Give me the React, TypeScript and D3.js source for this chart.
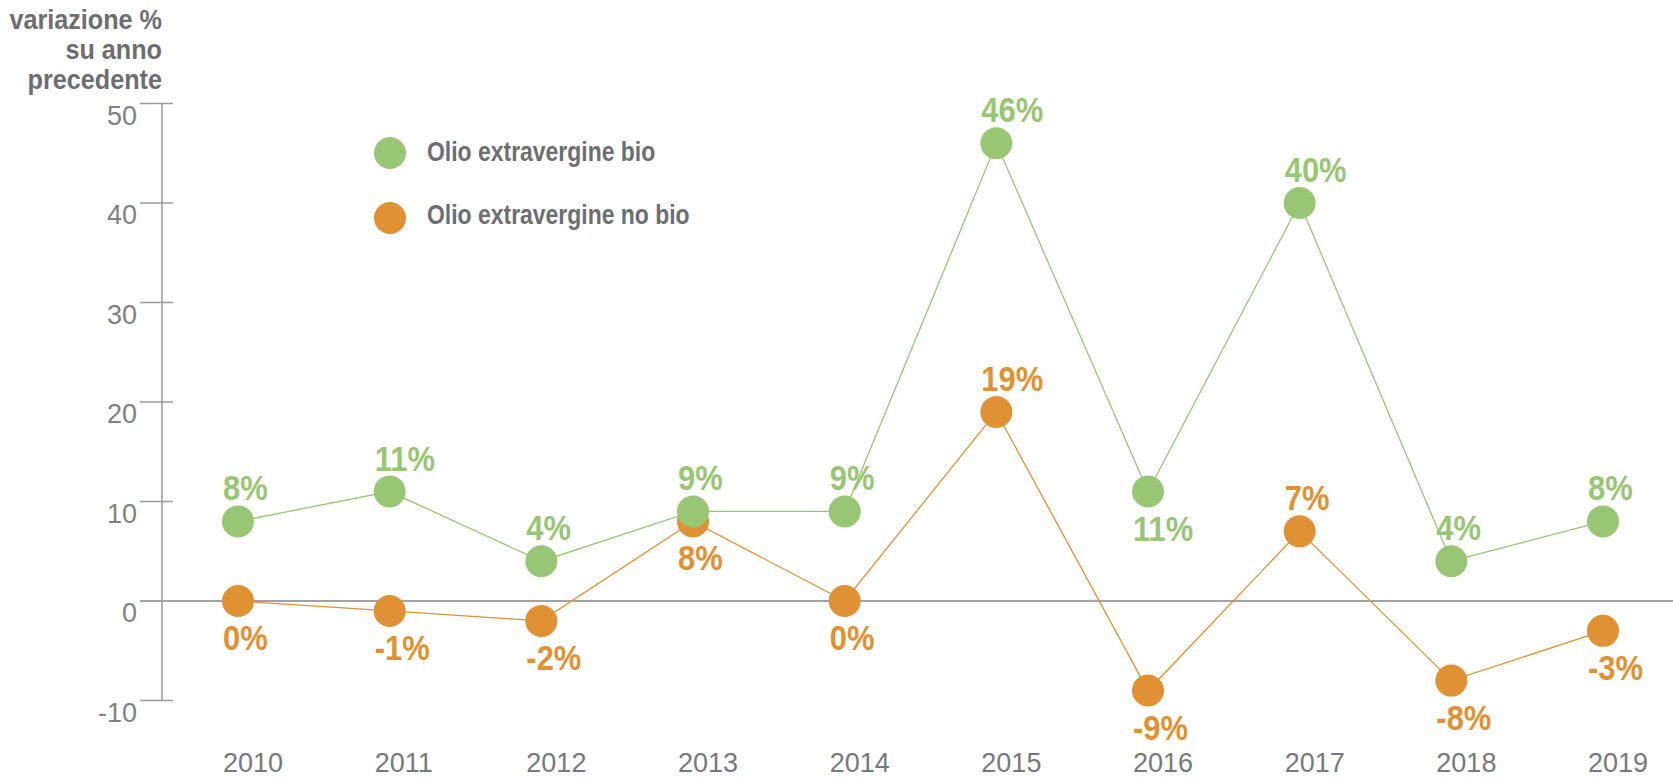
import * as d3 from 'd3';
import type { ReactNode } from 'react';

const years = ['2010', '2011', '2012', '2013', '2014', '2015', '2016', '2017', '2018', '2019'];
const bioValues = [8, 11, 4, 9, 9, 46, 11, 40, 4, 8];
const noBioValues = [0, -1, -2, 8, 0, 19, -9, 7, -8, -3];
const yTicks = [-10, 0, 10, 20, 30, 40, 50];
const titleLines = ['variazione %', 'su anno', 'precedente'];
const legendLabels = ['Olio extravergine bio', 'Olio extravergine no bio'];
// which labels go on the "other" side of the dot
const bioLabelBelow = ['2016'];
const noBioLabelAbove = ['2015', '2017'];

const GREEN = '#99c675';
const ORANGE = '#e09133';
const TEXT = '#6d6e71';
const AXIS = '#9a9a9a';
const FONT = "'Liberation Sans', Arial, sans-serif";

const width = 1673;
const height = 778;

// no condensed font installed, so squeeze bold Liberation Sans
function Cond({
  x,
  y,
  size,
  fill,
  squeeze = 0.85,
  anchor = 'start',
  children,
}: {
  x: number;
  y: number;
  size: number;
  fill: string;
  squeeze?: number;
  anchor?: 'start' | 'end' | 'middle';
  children: ReactNode;
}) {
  return (
    <text
      transform={`translate(${x},${y}) scale(${squeeze},1)`}
      fontFamily={FONT}
      fontWeight="bold"
      fontSize={size}
      fill={fill}
      textAnchor={anchor}
    >
      {children}
    </text>
  );
}

function App() {
  const x = d3.scalePoint<string>().domain(years).range([238, 1603]);
  const y = d3.scaleLinear().domain([-10, 50]).range([700.5, 103.5]);
  const axisX = 162;

  const line = d3
    .line<number>()
    .x((_, i) => x(years[i]) ?? 0)
    .y((d) => y(d));

  const series = [
    { name: legendLabels[1], values: noBioValues, color: ORANGE, flip: noBioLabelAbove, below: true },
    { name: legendLabels[0], values: bioValues, color: GREEN, flip: bioLabelBelow, below: false },
  ];

  return (
    <svg
      width={width}
      height={height}
      style={{ position: 'absolute', left: 0, top: 0, background: '#fff' }}
    >
      {/* title */}
      {titleLines.map((t, i) => (
        <Cond key={t} x={axisX} y={29 + i * 30} size={28} fill={TEXT} anchor="end" squeeze={0.9}>
          {t}
        </Cond>
      ))}

      {/* y axis */}
      <line x1={axisX} x2={axisX} y1={y(50)} y2={y(-10)} stroke={AXIS} strokeWidth={1.5} />
      {yTicks.map((t) => (
        <g key={t}>
          <line x1={140} x2={173} y1={y(t)} y2={y(t)} stroke={AXIS} strokeWidth={1.5} />
          <text
            x={137}
            y={y(t) + 21}
            textAnchor="end"
            fontFamily={FONT}
            fontSize={27}
            fill="#808184"
          >
            {t}
          </text>
        </g>
      ))}
      <line x1={140} x2={width} y1={y(0)} y2={y(0)} stroke="#a3a3a3" strokeWidth={2} />

      {/* x labels */}
      {years.map((yr) => (
        <text
          key={yr}
          x={(x(yr) ?? 0) - 15}
          y={772}
          fontFamily={FONT}
          fontSize={27}
          fill="#77787b"
        >
          {yr}
        </text>
      ))}

      {/* series */}
      {series.map((s) => (
        <g key={s.name}>
          <path d={line(s.values) ?? ''} fill="none" stroke={s.color} strokeWidth={1.3} />
          {s.values.map((v, i) => (
            <circle key={i} cx={x(years[i])} cy={y(v)} r={16} fill={s.color} />
          ))}
        </g>
      ))}

      {/* value labels */}
      {series.map((s) =>
        s.values.map((v, i) => {
          const below = s.flip.includes(years[i]) ? !s.below : s.below;
          return (
            <Cond
              key={s.name + i}
              x={(x(years[i]) ?? 0) - 15}
              y={y(v) + (below ? 49 : -21)}
              size={36}
              fill={s.color}
              squeeze={0.86}
            >
              {v}%
            </Cond>
          );
        }),
      )}

      {/* legend */}
      {[GREEN, ORANGE].map((c, i) => (
        <g key={c}>
          <circle cx={390} cy={153 + i * 65} r={16} fill={c} />
          <Cond x={427} y={161 + i * 63} size={27} fill={TEXT}>
            {legendLabels[i]}
          </Cond>
        </g>
      ))}
    </svg>
  );
}

export default App;
